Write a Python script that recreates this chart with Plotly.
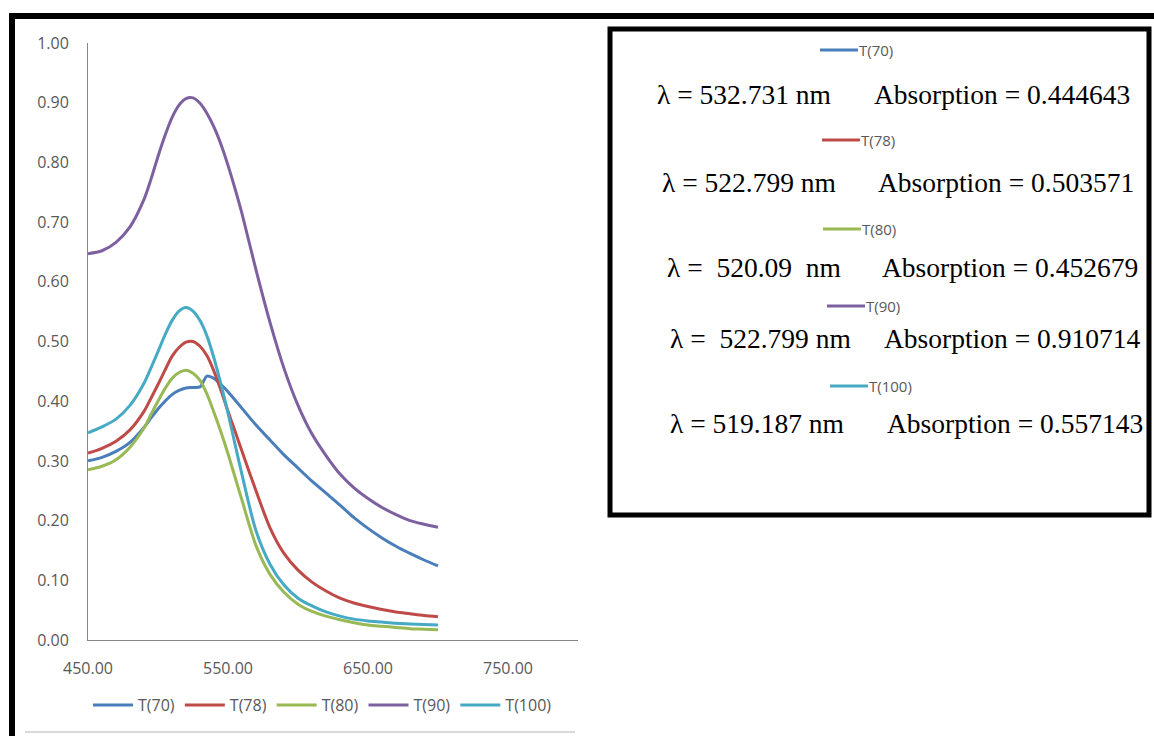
import plotly.graph_objects as go

W, H = 1154, 736

wavelength = [450, 460, 470, 480, 490, 495, 500, 505, 510, 515, 520, 525, 530, 535, 540, 545,
              550, 555, 560, 570, 580, 590, 600, 610, 620, 630, 640, 650, 660, 670, 680, 690, 700]

t70 = [0.300, 0.306, 0.316, 0.331, 0.356, 0.372, 0.387, 0.400, 0.411, 0.418, 0.422, 0.423, 0.424, 0.442, 0.438, 0.428,
       0.416, 0.402, 0.388, 0.360, 0.335, 0.310, 0.288, 0.266, 0.246, 0.226, 0.205, 0.187, 0.171, 0.157, 0.145, 0.134,
       0.124]
t78 = [0.313, 0.321, 0.333, 0.352, 0.383, 0.405, 0.428, 0.452, 0.475, 0.490, 0.499, 0.500, 0.492, 0.476, 0.450, 0.418,
       0.383, 0.350, 0.316, 0.250, 0.188, 0.145, 0.117, 0.097, 0.082, 0.070, 0.062, 0.056, 0.051, 0.047, 0.044, 0.041,
       0.039]
t80 = [0.285, 0.291, 0.302, 0.323, 0.355, 0.378, 0.400, 0.421, 0.438, 0.448, 0.452, 0.447, 0.435, 0.412, 0.381, 0.348,
       0.312, 0.273, 0.234, 0.158, 0.110, 0.080, 0.060, 0.048, 0.040, 0.034, 0.029, 0.025, 0.023, 0.021, 0.019, 0.018,
       0.017]
t90 = [0.647, 0.652, 0.666, 0.692, 0.738, 0.772, 0.810, 0.845, 0.875, 0.896, 0.907, 0.908, 0.899, 0.882, 0.859, 0.830,
       0.795, 0.756, 0.714, 0.620, 0.532, 0.455, 0.393, 0.345, 0.309, 0.278, 0.255, 0.237, 0.222, 0.210, 0.200, 0.194,
       0.189]
t100 = [0.347, 0.357, 0.370, 0.393, 0.430, 0.456, 0.483, 0.511, 0.535, 0.551, 0.557, 0.551, 0.535, 0.509, 0.472, 0.428,
        0.380, 0.328, 0.277, 0.183, 0.127, 0.092, 0.070, 0.057, 0.047, 0.040, 0.035, 0.032, 0.030, 0.028, 0.027, 0.026,
        0.025]

series_names = ["T(70)", "T(78)", "T(80)", "T(90)", "T(100)"]
series_values = [t70, t78, t80, t90, t100]
series_colors = ["#4A7EBB", "#BE4B48", "#98B954", "#7D60A0", "#46AAC5"]

peak_lambda = ["λ = 532.731 nm", "λ = 522.799 nm", "λ =\u00a0 520.09\u00a0 nm", "λ =\u00a0 522.799 nm", "λ = 519.187 nm"]
peak_abs = ["Absorption = 0.444643", "Absorption = 0.503571", "Absorption = 0.452679",
            "Absorption = 0.910714", "Absorption = 0.557143"]

y_ticks = [0.0, 0.1, 0.2, 0.3, 0.4, 0.5, 0.6, 0.7, 0.8, 0.9, 1.0]
x_ticks = [450, 550, 650, 750]

AX = "#868686"
TXT = "#595959"


def px(x):
    return x / W


def py(y):
    return 1 - y / H


fig = go.Figure()
for name, vals, col in zip(series_names, series_values, series_colors):
    fig.add_trace(go.Scatter(x=wavelength, y=vals, name=name, mode="lines",
                             line=dict(color=col, width=3, shape="spline", smoothing=0.8)))

fig.update_layout(
    template="none",
    width=W, height=H, autosize=False,
    margin=dict(l=0, r=0, t=0, b=0, pad=0, autoexpand=False),
    paper_bgcolor="white", plot_bgcolor="white",
    font=dict(family="Open Sans", color=TXT, size=13),
    xaxis=dict(domain=[px(88), px(578)], range=[450, 800], showgrid=False, zeroline=False, automargin=False,
               showline=True, linecolor=AX, linewidth=1, tickvals=x_ticks, tickformat=".2f",
               ticks="", ticklabelstandoff=14, tickfont=dict(size=16, color=TXT)),
    yaxis=dict(domain=[py(640), py(43)], range=[0, 1], showgrid=False, zeroline=False, automargin=False,
               showline=True, linecolor=AX, linewidth=1, tickvals=y_ticks, tickformat=".2f",
               ticks="", ticklabelstandoff=15, tickfont=dict(size=16, color=TXT)),
    legend=dict(orientation="h", x=px(88), y=py(705), xanchor="left", yanchor="middle",
                font=dict(size=16, color=TXT), bgcolor="rgba(0,0,0,0)", itemwidth=40,
                tracegroupgap=0),
    showlegend=True,
)

shapes = []
# outer black frame pieces
shapes.append(dict(type="line", xref="paper", yref="paper", x0=px(9), x1=1, y0=py(16), y1=py(16),
                   line=dict(color="black", width=6)))
shapes.append(dict(type="line", xref="paper", yref="paper", x0=px(12), x1=px(12), y0=py(13), y1=0,
                   line=dict(color="black", width=6)))
# faint chart area border bottom
shapes.append(dict(type="line", xref="paper", yref="paper", x0=px(25), x1=px(575), y0=py(732), y1=py(732),
                   line=dict(color="#d9d9d9", width=2)))
# right info box
shapes.append(dict(type="rect", xref="paper", yref="paper", x0=px(610), x1=px(1149), y0=py(29), y1=py(515),
                   line=dict(color="black", width=5), fillcolor="white"))

legend_rows_y = [50, 140, 229, 306, 386]
legend_rows_x = [820, 822, 823, 827, 830]
text_rows_y = [94, 183, 268, 338, 423]
lambda_x = [655, 660, 665, 668, 668]
abs_x = [872, 876, 880, 882, 885]

annotations = []
for i in range(5):
    lx = legend_rows_x[i]
    ly = legend_rows_y[i]
    shapes.append(dict(type="line", xref="paper", yref="paper", x0=px(lx), x1=px(lx + 38), y0=py(ly), y1=py(ly),
                       line=dict(color=series_colors[i], width=3)))
    annotations.append(dict(xref="paper", yref="paper", x=px(lx + 37), y=py(ly), xanchor="left", yanchor="middle",
                            text=series_names[i], showarrow=False, font=dict(size=15, color=TXT, family="Open Sans")))
    annotations.append(dict(xref="paper", yref="paper", x=px(lambda_x[i]), y=py(text_rows_y[i]), xanchor="left",
                            yanchor="middle", text=peak_lambda[i], showarrow=False,
                            font=dict(size=27.5, color="black", family="Liberation Serif")))
    annotations.append(dict(xref="paper", yref="paper", x=px(abs_x[i]), y=py(text_rows_y[i]), xanchor="left",
                            yanchor="middle", text=peak_abs[i], showarrow=False,
                            font=dict(size=27.5, color="black", family="Liberation Serif")))

fig.update_layout(shapes=shapes, annotations=annotations)

fig.write_html("out.html", config=dict(displayModeBar=False),
               post_script="document.body.style.margin='0px';document.body.style.padding='0px';")
